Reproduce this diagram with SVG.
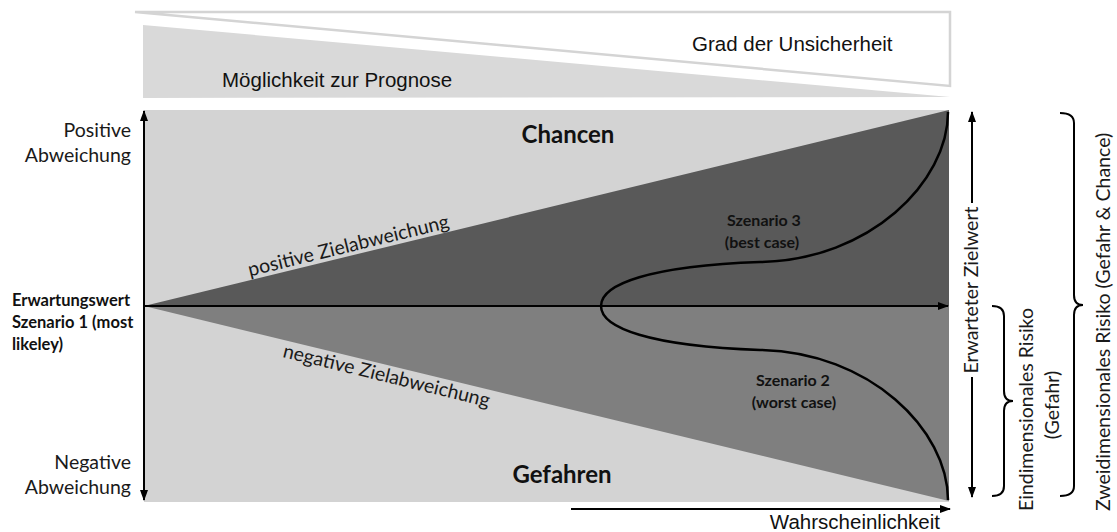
<svg xmlns="http://www.w3.org/2000/svg" width="1117" height="532" viewBox="0 0 1117 532">
<style>
.lbl{font-family:Lato,"Open Sans",sans-serif;font-size:19.5px;fill:#1a1a1a}
.bold{font-family:Lato,"Open Sans",sans-serif;font-weight:bold;fill:#111}
.arial{font-family:"Liberation Sans",Arial,sans-serif;font-size:20.5px;fill:#111}
.ax{stroke:#000;stroke-width:2;fill:none}
.brace{stroke:#000;stroke-width:2;fill:none}
</style>
<defs>
<marker id="ah" markerUnits="userSpaceOnUse" markerWidth="11" markerHeight="8" refX="10" refY="4" orient="auto-start-reverse">
<path d="M0,0 L11,4 L0,8 z" fill="#000"/>
</marker>
</defs>
<rect width="1117" height="532" fill="#fff"/>
<g id="top-band">
<polygon points="143,25 950,97 143,98" fill="#d9d9d9"/>
<polygon points="135,12 950,12 950,86" fill="#fff" stroke="#d4d4d4" stroke-width="2.5"/>
<text class="arial" x="692" y="51">Grad der Unsicherheit</text>
<text class="arial" x="222" y="87">Möglichkeit zur Prognose</text>
</g>
<g id="chart">
<rect x="144" y="110" width="805" height="392" fill="#d3d3d3"/>
<polygon points="144,306 949,110 949,306" fill="#595959"/>
<polygon points="144,306 949,306 949,501" fill="#7f7f7f"/>
</g>
<g id="connectors">
<line class="ax" x1="144" y1="111" x2="144" y2="500" marker-start="url(#ah)" marker-end="url(#ah)"/>
<line class="ax" x1="144" y1="306" x2="948" y2="306" marker-end="url(#ah)"/>
<line class="ax" x1="571" y1="509" x2="950" y2="509" marker-end="url(#ah)"/>
<path d="M948,112 C948,182 870,260 760,262 C650,266 601,284 601,306 C601,328 650,346 760,350 C870,352 948,430 948,500" stroke="#000" stroke-width="2.5" fill="none"/>
<line class="ax" x1="972" y1="112" x2="972" y2="203" marker-start="url(#ah)"/>
<line class="ax" x1="972" y1="377" x2="972" y2="497" marker-end="url(#ah)"/>
<path class="brace" d="M992,306 Q1004,306 1004,316 L1004,391 Q1004,401 1013,401 Q1004,401 1004,411 L1004,486 Q1004,496 992,496"/>
<path class="brace" d="M1060,113 Q1074,113 1074,123 L1074,295 Q1074,305 1083,305 Q1074,305 1074,315 L1074,486 Q1074,496 1060,496"/>
</g>
<g id="label-positive">
<text class="lbl" x="131" y="137" text-anchor="end">Positive</text>
<text class="lbl" x="131" y="162" text-anchor="end">Abweichung</text>
</g>
<g id="label-negative">
<text class="lbl" x="131" y="469" text-anchor="end">Negative</text>
<text class="lbl" x="131" y="494" text-anchor="end">Abweichung</text>
</g>
<g id="label-erwartungswert">
<text class="bold" font-size="16.5" x="12" y="306">Erwartungswert</text>
<text class="bold" font-size="16.5" x="12" y="328">Szenario 1 (most</text>
<text class="bold" font-size="16.5" x="12" y="350">likeley)</text>
</g>
<g id="label-chancen"><text class="bold" font-size="24" x="568" y="143" text-anchor="middle">Chancen</text></g>
<g id="label-gefahren"><text class="bold" font-size="24" x="562" y="483" text-anchor="middle">Gefahren</text></g>
<g id="label-szenario3">
<text class="bold" font-size="16" x="764" y="226" text-anchor="middle">Szenario 3</text>
<text class="bold" font-size="16" x="762" y="248" text-anchor="middle">(best case)</text>
</g>
<g id="label-szenario2">
<text class="bold" font-size="16" x="793" y="386" text-anchor="middle">Szenario 2</text>
<text class="bold" font-size="16" x="794" y="408" text-anchor="middle">(worst case)</text>
</g>
<g id="label-pos-ziel"><text class="lbl" font-size="18" text-anchor="middle" transform="translate(350,252) rotate(-13.7)">positive Zielabweichung</text></g>
<g id="label-neg-ziel"><text class="lbl" font-size="18" text-anchor="middle" transform="translate(385,382) rotate(13.7)">negative Zielabweichung</text></g>
<g id="label-wahrscheinlichkeit"><text class="arial" x="940" y="529" text-anchor="end">Wahrscheinlichkeit</text></g>
<g id="label-zielwert"><text class="lbl" font-size="17.5" text-anchor="middle" transform="translate(978,290) rotate(-90)">Erwarteter Zielwert</text></g>
<g id="label-eindim">
<text class="lbl" font-size="20" transform="translate(1033,511) rotate(-90)">Eindimensionales Risiko</text>
<text class="lbl" font-size="20" text-anchor="middle" transform="translate(1059,405) rotate(-90)">(Gefahr)</text>
</g>
<g id="label-zweidim"><text class="lbl" transform="translate(1110,511) rotate(-90)">Zweidimensionales Risiko (Gefahr &amp; Chance)</text></g>
</svg>
